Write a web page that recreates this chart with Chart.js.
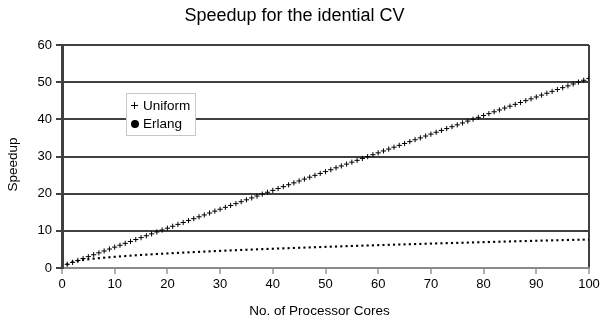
<!DOCTYPE html>
<html>
<head>
<meta charset="utf-8">
<script src="https://cdn.jsdelivr.net/npm/chart.js@4.4.1/dist/chart.umd.min.js"></script>
<style>
  html, body { margin: 0; padding: 0; background: #ffffff; }
  #wrap { width: 605px; height: 321px; position: relative; }
</style>
</head>
<body>
<div id="wrap"><canvas id="c"></canvas></div>
<script>
const chartTitle = "Speedup for the idential CV";
const xAxisTitle = "No. of Processor Cores";
const yAxisTitle = "Speedup";
const seriesNames = ["Uniform", "Erlang"];
const cores = Array.from({length: 100}, (_, i) => i + 1);
const uniformSpeedup = [
  1.00, 1.51, 2.03, 2.54, 3.05, 3.56, 4.08, 4.59, 5.10, 5.61,
  6.12, 6.63, 7.14, 7.66, 8.17, 8.68, 9.19, 9.70, 10.21, 10.72,
  11.23, 11.74, 12.25, 12.76, 13.27, 13.78, 14.28, 14.79, 15.30, 15.81,
  16.32, 16.83, 17.33, 17.84, 18.35, 18.86, 19.36, 19.87, 20.38, 20.89,
  21.39, 21.90, 22.40, 22.91, 23.42, 23.92, 24.43, 24.93, 25.44, 25.94,
  26.45, 26.96, 27.46, 27.96, 28.47, 28.97, 29.48, 29.98, 30.48, 30.99,
  31.49, 32.00, 32.50, 33.00, 33.50, 34.01, 34.51, 35.01, 35.51, 36.02,
  36.52, 37.02, 37.52, 38.02, 38.52, 39.03, 39.53, 40.03, 40.53, 41.03,
  41.53, 42.03, 42.53, 43.03, 43.53, 44.03, 44.53, 45.03, 45.52, 46.02,
  46.52, 47.02, 47.52, 48.02, 48.52, 49.01, 49.51, 50.01, 50.51, 51.00
];
const erlangSpeedup = [
  1.00, 1.67, 1.95, 2.16, 2.34, 2.50, 2.64, 2.77, 2.89, 3.01,
  3.12, 3.22, 3.32, 3.42, 3.51, 3.59, 3.68, 3.76, 3.84, 3.92,
  4.00, 4.07, 4.14, 4.21, 4.28, 4.35, 4.42, 4.48, 4.55, 4.61,
  4.67, 4.73, 4.79, 4.85, 4.91, 4.96, 5.02, 5.08, 5.13, 5.18,
  5.24, 5.29, 5.34, 5.39, 5.44, 5.49, 5.54, 5.59, 5.64, 5.69,
  5.74, 5.78, 5.83, 5.88, 5.92, 5.97, 6.01, 6.06, 6.10, 6.15,
  6.19, 6.23, 6.28, 6.32, 6.36, 6.40, 6.44, 6.48, 6.53, 6.57,
  6.61, 6.65, 6.69, 6.72, 6.76, 6.80, 6.84, 6.88, 6.92, 6.96,
  7.00, 7.03, 7.07, 7.11, 7.15, 7.18, 7.22, 7.26, 7.29, 7.33,
  7.37, 7.40, 7.44, 7.47, 7.50, 7.54, 7.57, 7.60, 7.63, 7.67
];
const xTicks = [0, 10, 20, 30, 40, 50, 60, 70, 80, 90, 100];
const yTicks = [0, 10, 20, 30, 40, 50, 60];

const FONT = "'Liberation Sans', Arial, sans-serif";

const overlay = {
  id: 'overlay',
  afterDraw(chart) {
    const ctx = chart.ctx;
    ctx.save();
    // axis titles
    ctx.fillStyle = '#000';
    ctx.font = '13.5px ' + FONT;
    ctx.textAlign = 'center';
    ctx.textBaseline = 'middle';
    ctx.fillText(xAxisTitle, 319.5, 311);
    ctx.save();
    ctx.translate(13, 164.5);
    ctx.rotate(-Math.PI / 2);
    ctx.fillText(yAxisTitle, 0, 0);
    ctx.restore();

    // legend box
    const x0 = 126, y0 = 93, w = 70, h = 43;
    ctx.fillStyle = '#ffffff';
    ctx.fillRect(x0, y0, w, h);
    ctx.strokeStyle = '#c8c8c8';
    ctx.lineWidth = 1;
    ctx.strokeRect(x0 + 0.5, y0 + 0.5, w - 1, h - 1);
    ctx.strokeStyle = '#000';
    ctx.lineWidth = 1;
    const cy1 = 105.5, cy2 = 124, mx = 134.5;
    ctx.beginPath();
    ctx.moveTo(mx - 3.5, cy1); ctx.lineTo(mx + 3.5, cy1);
    ctx.moveTo(mx, cy1 - 3.5); ctx.lineTo(mx, cy1 + 3.5);
    ctx.stroke();
    ctx.fillStyle = '#000';
    ctx.beginPath();
    ctx.arc(mx + 0.5, cy2, 4, 0, Math.PI * 2);
    ctx.fill();
    ctx.font = '13.5px ' + FONT;
    ctx.textBaseline = 'middle';
    ctx.textAlign = 'left';
    ctx.fillText(chart.data.datasets[0].label, 143, cy1 + 0.5);
    ctx.fillText(chart.data.datasets[1].label, 143, cy2 + 0.5);
    ctx.restore();
  }
};

new Chart(document.getElementById('c'), {
  type: 'scatter',
  data: {
    datasets: [
      {
        label: seriesNames[0],
        data: cores.map((c, i) => ({x: c, y: uniformSpeedup[i]})),
        pointStyle: 'cross',
        pointRadius: 2.6,
        borderColor: '#000',
        backgroundColor: '#000',
        borderWidth: 1,
        showLine: false
      },
      {
        label: seriesNames[1],
        data: cores.map((c, i) => ({x: c, y: erlangSpeedup[i]})),
        pointStyle: 'rect',
        pointRadius: 1.5,
        borderWidth: 0,
        backgroundColor: '#000',
        borderColor: '#000',
        showLine: false
      }
    ]
  },
  options: {
    responsive: true,
    maintainAspectRatio: false,
    animation: false,
    layout: { padding: { left: 0, right: 16, top: 0, bottom: 0 } },
    plugins: {
      legend: { display: false },
      tooltip: { enabled: false },
      title: {
        display: true,
        text: chartTitle,
        color: '#000',
        font: { family: FONT, size: 18, weight: 'normal' },
        padding: { top: 5.5, bottom: 17.9 }
      }
    },
    scales: {
      x: {
        type: 'linear',
        min: 0, max: 100,
        afterFit: s => { s.height = 53; },
        afterBuildTicks: s => { s.ticks = xTicks.map(v => ({value: v})); },
        ticks: { color: '#000', font: { family: FONT, size: 13 }, padding: 3, maxRotation: 0 },
        grid: {
          drawOnChartArea: true,
          drawTicks: true,
          tickLength: 6,
          tickColor: '#b0b0b0',
          color: ctx => (ctx.tick && ctx.tick.value === 100) ? '#404040' : 'rgba(0,0,0,0)',
          lineWidth: 2
        },
        border: { display: true, color: '#8a8a8a', width: 2 },
        title: { display: false }
      },
      y: {
        type: 'linear',
        min: 0, max: 60,
        afterFit: s => { s.width = 62; },
        afterBuildTicks: s => { s.ticks = yTicks.map(v => ({value: v})); },
        ticks: { color: '#000', font: { family: FONT, size: 13 }, padding: 4 },
        grid: {
          drawTicks: true,
          tickLength: 6,
          color: ctx => (ctx.tick && ctx.tick.value === 0) ? '#8a8a8a' : '#404040',
          tickColor: '#404040',
          lineWidth: 2
        },
        border: { display: true, color: '#404040', width: 3 },
        title: { display: false }
      }
    }
  },
  plugins: [overlay]
});
</script>
</body>
</html>
